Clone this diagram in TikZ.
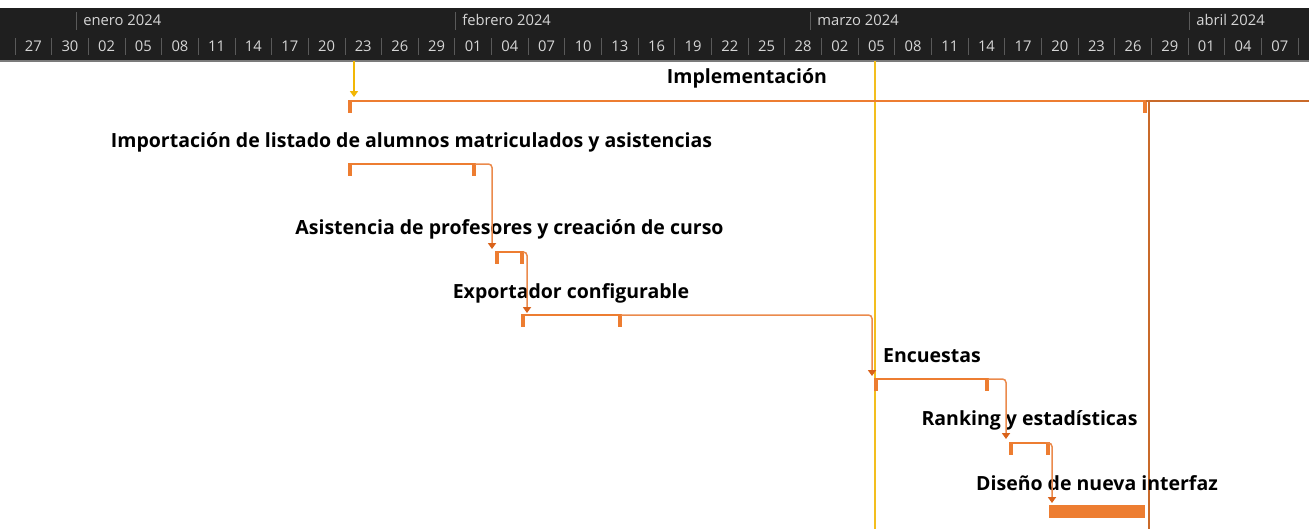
\documentclass[tikz,border=0pt]{standalone}
\usepackage{fontspec}
\setmainfont{Open Sans}
\usetikzlibrary{arrows.meta}
\definecolor{naranja}{HTML}{ED7D31}
\definecolor{conector}{HTML}{EB8A4C}
\definecolor{punta}{HTML}{D9621A}
\definecolor{hoy}{HTML}{F2B705}
\definecolor{cabecera}{HTML}{1F1F1F}
\definecolor{rejilla}{HTML}{5A5A5A}
\definecolor{textocab}{HTML}{D6D6D6}
\tikzset{
  tarea/.style={font=\fontsize{11.1}{13}\selectfont\bfseries,inner sep=0pt},
  cab/.style={font=\fontsize{8.4}{10}\selectfont,text=textocab,inner sep=0pt},
  resumen/.style={draw=naranja,line width=1.6pt},
  marca/.style={draw=naranja,line width=2.1pt},
  conec/.style={draw=conector,line width=0.85pt,rounded corners=2pt,
    -{Triangle[width=4.6pt,length=3.4pt,color=punta]}},
  sep/.style={draw=rejilla,line width=0.5pt}
}
\newcommand\barraresumen[4]{%
  \draw[resumen] (#1,#3) -- (#2,#3);
  \draw[marca] (#1,#3-0.8) -- (#1,#3+12);
  \draw[marca] (#2,#3-0.8) -- (#2,#3+12);
  \coordinate (#4-fin) at (#2+1,#3);
}
\begin{document}
\begin{tikzpicture}[x=0.02cm,y=-0.02cm]
    \useasboundingbox[fill=white] (0,0) rectangle (1309,529);
    \fill[cabecera] (0,8) rectangle (1309,61);
    \draw[rejilla!80!white,line width=0.8pt] (0,61) -- (1309,61);
    \foreach \x/\mes in {76/enero 2024,455/febrero 2024,810/marzo 2024,1189/abril 2024}{
      \draw[sep] (\x,12) -- ++(0,18);
      \node[cab,anchor=west] (m\x) at (\x+7,20) {\mes};
    }
    \foreach \d [count=\i from 0] in {27,30,02,05,08,11,14,17,20,23,26,29,01,04,07,10,13,16,19,22,25,28,02,05,08,11,14,17,20,23,26,29,01,04,07}
      \node[cab] (d\i) at (33.3+36.66*\i,46) {\d};
    \foreach \i in {0,...,35}
      \draw[sep] (15+36.66*\i,38) -- ++(0,17);

    \draw[hoy!90!white,line width=0.6pt] (875,61) -- (875,529);
    \coordinate (hoy-ini) at (354,61);
    \coordinate (imp-ent) at (354,97);
    \draw[hoy,line width=0.8pt,-{Triangle[width=4.6pt,length=3.4pt]}] (hoy-ini) -- (imp-ent);

    \node[tarea] (t1) at (747,78) {Implementación};
    \barraresumen{350}{1145}{101}{imp}
    \coordinate (limite) at (1149,102);
    \draw[naranja!85!black,line width=0.8pt] (imp-fin) -- (1309,101);
    \draw[naranja!85!black,line width=0.75pt] (limite) -- (1149,529);

    \node[tarea] (t2) at (411.5,142) {Importación de listado de alumnos matriculados y asistencias};
    \barraresumen{350}{474}{164}{imp2}

    \node[tarea] (t3) at (509.5,229) {Asistencia de profesores y creación de curso};
    \coordinate (asi-ent) at (492,249);
    \barraresumen{497}{522}{252}{asi}

    \node[tarea] (t4) at (571,293) {Exportador configurable};
    \coordinate (exp-ent) at (527,313);
    \barraresumen{523}{620}{315}{exp}

    \node[tarea] (t5) at (932,356) {Encuestas};
    \coordinate (enc-ent) at (872,376);
    \barraresumen{876}{987}{379}{enc}

    \node[tarea] (t6) at (1029.5,420) {Ranking y estadísticas};
    \coordinate (ran-ent) at (1006,439);
    \barraresumen{1011}{1048}{443}{ran}

    \node[tarea] (t7) at (1097,483) {Diseño de nueva interfaz};
    \coordinate (dis-ent) at (1052,503);
    \fill[naranja] (1049,505) rectangle (1145,518);

    \draw[conec] (imp2-fin) -| (asi-ent);
    \draw[conec] (asi-fin) -| (exp-ent);
    \draw[conec] (exp-fin) -| (enc-ent);
    \draw[conec] (enc-fin) -| (ran-ent);
    \draw[conec] (ran-fin) -| (dis-ent);
\end{tikzpicture}
\end{document}
